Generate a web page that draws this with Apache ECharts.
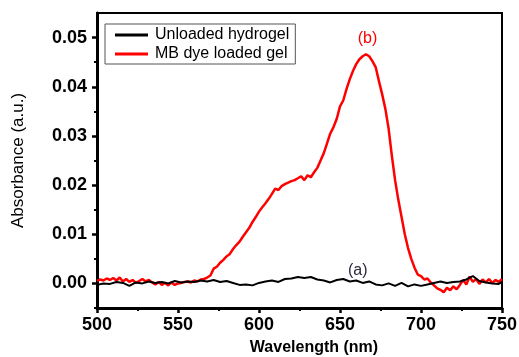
<!DOCTYPE html>
<html>
<head>
<meta charset="utf-8">
<script src="https://cdn.jsdelivr.net/npm/echarts@6/dist/echarts.min.js"></script>
<style>html,body{margin:0;padding:0;background:#fff;}#c{width:519px;height:357px;}</style>
</head>
<body>
<div id="c"></div>
<script>
// Wavelength (nm) grids
var redWavelengths = [500,502,504,506,508,510,512,514,516,518,520,522,524,526,528,530,532,534,536,538,540,542,544,546,548,550,552,554,556,558,560,562,564,566,568,570,572,574,576,578,580,582,584,586,588,590,592,594,596,598,600,602,604,606,608,610,612,614,616,618,620,622,624,626,628,630,632,634,636,638,640,642,644,646,648,650,652,654,656,658,660,662,664,666,668,670,672,674,676,678,680,682,684,686,688,690,692,694,696,698,700,702,704,706,708,710,712,714,716,718,720,722,724,726,728,730,732,734,736,738,740,742,744,746,748,750];
var redAbsorbance = [0.0005,0.0008,0.0006,0.0010,0.0007,0.0011,0.0006,0.0012,0.0004,0.0009,0.0003,0.0007,0.0001,0.0005,0.0009,0.0004,0.0007,0.0002,-0.0002,0.0003,-0.0003,0.0001,-0.0004,0.0002,-0.0003,0.0000,0.0001,0.0003,0.0004,0.0002,0.0006,0.0004,0.0008,0.0009,0.0012,0.0016,0.0030,0.0034,0.0042,0.0048,0.0055,0.0060,0.0070,0.0078,0.0085,0.0095,0.0104,0.0113,0.0125,0.0135,0.0146,0.0155,0.0163,0.0172,0.0182,0.0193,0.0190,0.0198,0.0202,0.0205,0.0208,0.0210,0.0214,0.0218,0.0210,0.0220,0.0216,0.0226,0.0235,0.0250,0.0265,0.0285,0.0305,0.0318,0.0335,0.0360,0.0372,0.0395,0.0415,0.0432,0.0446,0.0456,0.0462,0.0466,0.0462,0.0452,0.0440,0.0412,0.0385,0.0355,0.0315,0.0260,0.0210,0.0170,0.0135,0.0100,0.0072,0.0050,0.0032,0.0018,0.0015,0.0008,0.0010,0.0002,-0.0004,-0.0010,-0.0013,-0.0018,-0.0009,-0.0014,-0.0006,-0.0012,-0.0003,0.0007,-0.0002,0.0014,0.0003,0.0009,-0.0001,0.0008,0.0002,0.0009,0.0001,0.0007,0.0003,0.0009];

var blackWavelengths = [500,504,508,512,516,520,524,528,532,536,540,544,548,552,556,560,564,568,572,576,580,584,588,592,596,600,604,608,612,616,620,624,628,632,636,640,644,648,652,656,660,664,668,672,676,680,684,688,692,696,700,704,708,712,716,720,724,728,732,736,740,744,748,750];
var blackAbsorbance = [-0.0003,0.0000,-0.0001,0.0003,0.0001,-0.0005,0.0002,0.0000,0.0004,0.0001,0.0003,0.0000,0.0005,0.0002,0.0004,0.0003,0.0006,0.0004,0.0007,0.0003,0.0005,0.0001,-0.0003,-0.0002,-0.0004,0.0001,0.0004,0.0006,0.0003,0.0009,0.0010,0.0013,0.0011,0.0013,0.0008,0.0006,0.0002,0.0007,0.0009,0.0004,0.0006,0.0001,0.0004,-0.0002,-0.0004,0.0000,-0.0005,0.0001,-0.0006,-0.0002,-0.0005,-0.0002,0.0001,0.0004,0.0001,0.0003,0.0004,0.0008,0.0015,0.0005,0.0002,0.0000,-0.0001,0.0003];

var seriesNames = ['Unloaded hydrogel', 'MB dye loaded gel'];
var yTickValues = [0, 0.01, 0.02, 0.03, 0.04, 0.05];
var yTickLabels = ['0.00', '0.01', '0.02', '0.03', '0.04', '0.05'];
var yMinorTickValues = [-0.005, 0.005, 0.015, 0.025, 0.035, 0.045];
var annotationA = {label: '(a)', x: 661, y: 0.0027};
var annotationB = {label: '(b)', x: 667, y: 0.0498};

function zip(xs, ys) { return xs.map(function (x, i) { return [x, ys[i]]; }); }

var chart = echarts.init(document.getElementById('c'), null, {renderer: 'canvas'});
var font = 'Liberation Sans, Arial, sans-serif';
chart.setOption({
  animation: false,
  backgroundColor: '#fff',
  grid: {left: 97, right: 17, top: 13, bottom: 49, show: true, borderColor: '#000', borderWidth: 2, outerBoundsMode: 'none', containLabel: false},
  legend: {
    data: [
      {name: seriesNames[0], icon: 'rect', itemStyle: {color: '#000'}},
      {name: seriesNames[1], icon: 'rect', itemStyle: {color: '#ff0000'}}
    ],
    orient: 'vertical', left: 105, top: 24,
    itemWidth: 33, itemHeight: 3, itemGap: 3,
    padding: [3, 6, 2, 10],
    borderColor: '#555', borderWidth: 1, borderRadius: 0,
    textStyle: {fontFamily: font, fontSize: 16, color: '#000', padding: [0, 0, 0, 2]}
  },
  xAxis: {
    type: 'value', min: 500, max: 750, interval: 50,
    name: 'Wavelength (nm)', nameLocation: 'middle', nameGap: 32,
    nameTextStyle: {fontFamily: font, fontSize: 16, fontWeight: 'bold', color: '#000', padding: [0, 0, 0, 29]},
    axisLine: {show: true, onZero: false, lineStyle: {color: '#000', width: 3}},
    axisTick: {show: true, inside: false, length: 5, lineStyle: {color: '#000', width: 2.5}},
    minorTick: {show: true, splitNumber: 2, length: 3, lineStyle: {color: '#000', width: 2}},
    axisLabel: {fontFamily: font, fontSize: 18, fontWeight: 'bold', color: '#000', margin: 8},
    splitLine: {show: false}, minorSplitLine: {show: false}
  },
  yAxis: [{
    type: 'value', min: -0.005, max: 0.055,
    name: 'Absorbance (a.u.)', nameLocation: 'middle', nameGap: 70,
    nameTextStyle: {fontFamily: font, fontSize: 17, color: '#000'},
    axisLine: {show: true, onZero: false, lineStyle: {color: '#000', width: 3}},
    axisTick: {show: true, inside: false, length: 5, customValues: yTickValues, lineStyle: {color: '#000', width: 2.5}},
    axisLabel: {fontFamily: font, fontSize: 18, fontWeight: 'bold', color: '#000', margin: 10, customValues: yTickValues,
      formatter: function (v) {
        for (var i = 0; i < yTickValues.length; i++) { if (Math.abs(v - yTickValues[i]) < 1e-9) return yTickLabels[i]; }
        return '';
      }},
    splitLine: {show: false}
  }, {
    type: 'value', min: -0.005, max: 0.055, position: 'left',
    axisLine: {show: false},
    axisTick: {show: true, inside: false, length: 3, customValues: yMinorTickValues, lineStyle: {color: '#000', width: 2}},
    axisLabel: {show: false},
    splitLine: {show: false}
  }],
  series: [{
    name: seriesNames[1], type: 'line', data: zip(redWavelengths, redAbsorbance),
    showSymbol: false, symbol: 'none', z: 2,
    lineStyle: {color: '#ff0000', width: 2.5}, itemStyle: {color: '#ff0000'},
    markPoint: {symbol: 'circle', symbolSize: 0, data: [{coord: [annotationB.x, annotationB.y], value: annotationB.label}],
      label: {show: true, position: 'inside', formatter: annotationB.label, fontFamily: font, fontSize: 16, color: '#ff0000'}}
  }, {
    name: seriesNames[0], type: 'line', data: zip(blackWavelengths, blackAbsorbance),
    showSymbol: false, symbol: 'none', z: 3,
    lineStyle: {color: '#000', width: 2}, itemStyle: {color: '#000'},
    markPoint: {symbol: 'circle', symbolSize: 0, data: [{coord: [annotationA.x, annotationA.y], value: annotationA.label}],
      label: {show: true, position: 'inside', formatter: annotationA.label, fontFamily: font, fontSize: 16, color: '#2a2a3a'}}
  }]
});
</script>
</body>
</html>
